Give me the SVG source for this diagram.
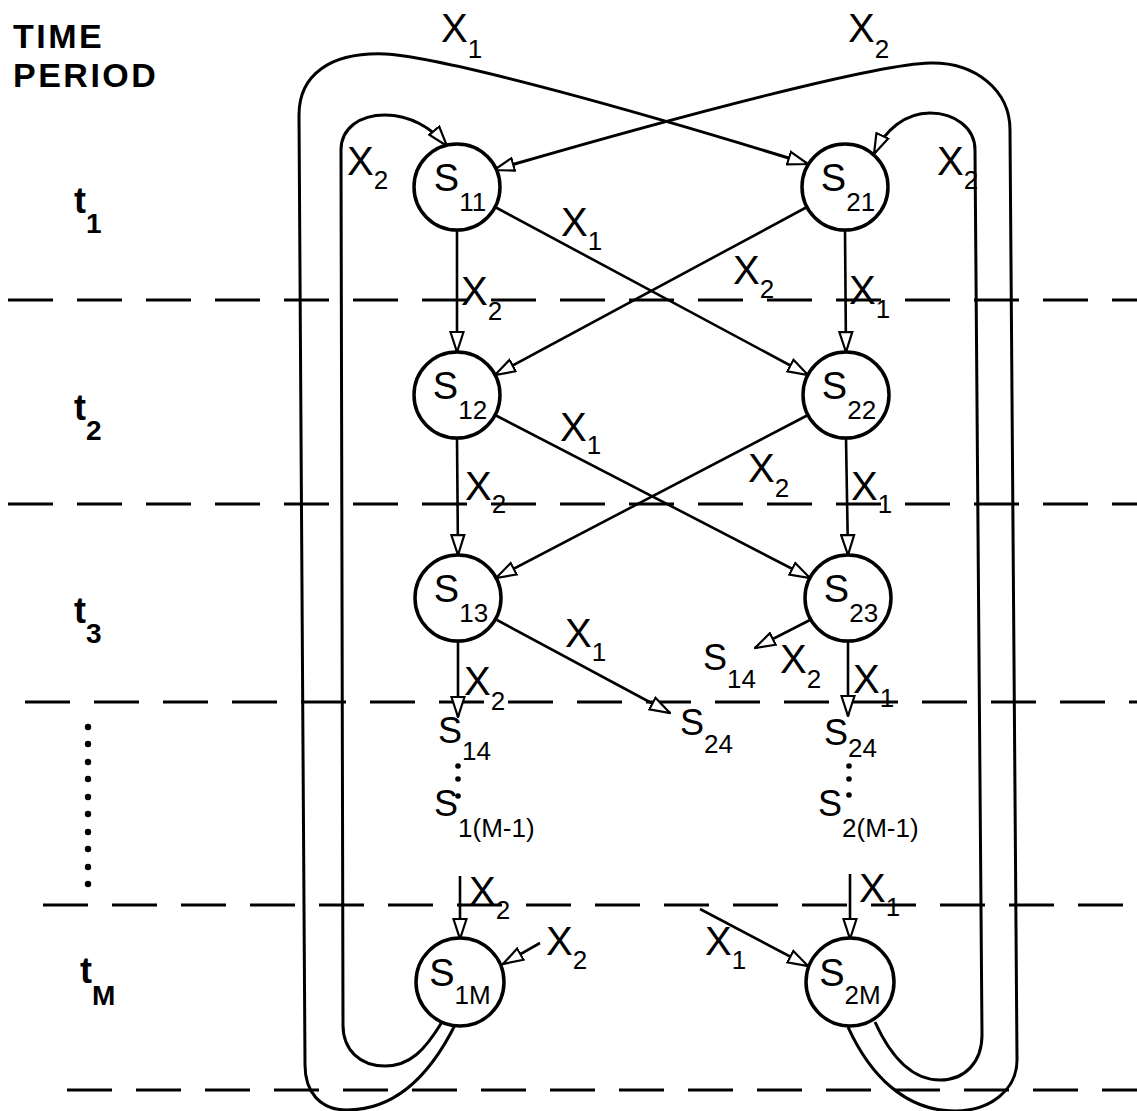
<svg xmlns="http://www.w3.org/2000/svg" width="1137" height="1111" viewBox="0 0 1137 1111">
<style>
.bg{fill:#fff}
.dash{stroke:#000;stroke-width:3;stroke-dasharray:45 24;fill:none}
.node circle{fill:#fff;stroke:#000;stroke-width:3.5}
.edge{stroke:#000;stroke-width:2.6;fill:none}
.loop{stroke:#000;stroke-width:3;fill:none}
.arr{marker-end:url(#ah)}
text{font-family:"Liberation Sans",Arial,sans-serif;fill:#000}
.nl{font-size:38px;text-anchor:middle}
.lab{font-size:40px}
.sub{font-size:26px}
.st{font-size:36px}
.hdr{font-size:34px;font-weight:bold;letter-spacing:2.5px}
.tl{font-size:36px;font-weight:bold}
.tsub{font-size:28px;font-weight:bold}
.dot{fill:#000}
</style>
<defs>
<marker id="ah" viewBox="0 0 22 16" refX="21" refY="8" markerWidth="22" markerHeight="16" markerUnits="userSpaceOnUse" orient="auto">
<path d="M1,1.5 L21,8 L1,14.5 Z" fill="#fff" stroke="#000" stroke-width="2.2"/>
</marker>
</defs>
<rect class="bg" x="0" y="0" width="1137" height="1111"/>

<g id="time-axis">
<text class="hdr" x="13" y="48">TIME</text>
<text class="hdr" x="13" y="87">PERIOD</text>
<text class="tl" x="74" y="213">t<tspan class="tsub" dy="20">1</tspan></text>
<text class="tl" x="74" y="420">t<tspan class="tsub" dy="20">2</tspan></text>
<text class="tl" x="74" y="623">t<tspan class="tsub" dy="20">3</tspan></text>
<text class="tl" x="80" y="983">t<tspan class="tsub" dy="22">M</tspan></text>
<g id="ellipsis-dots">
<circle class="dot" cx="88" cy="727" r="3.2"/>
<circle class="dot" cx="88" cy="744" r="3.2"/>
<circle class="dot" cx="88" cy="762" r="3.2"/>
<circle class="dot" cx="88" cy="779" r="3.2"/>
<circle class="dot" cx="88" cy="797" r="3.2"/>
<circle class="dot" cx="88" cy="814" r="3.2"/>
<circle class="dot" cx="88" cy="832" r="3.2"/>
<circle class="dot" cx="88" cy="849" r="3.2"/>
<circle class="dot" cx="88" cy="867" r="3.2"/>
<circle class="dot" cx="88" cy="884" r="3.2"/>
</g>
</g>

<g id="period-dividers">
<line class="dash" x1="8" y1="300" x2="1137" y2="300"/>
<line class="dash" x1="8" y1="504" x2="1137" y2="504"/>
<line class="dash" x1="25" y1="702" x2="1137" y2="702"/>
<line class="dash" x1="43" y1="905" x2="1137" y2="905"/>
<line class="dash" x1="67" y1="1090" x2="1137" y2="1090"/>
</g>

<g id="connectors">
<path class="loop arr" d="M455,1025 C430,1075 395,1110 347,1110 C320,1110 305,1092 305,1065 L299,115 C299,75 330,52 385,54 C450,58 650,115 808,164"/>
<path class="loop arr" d="M442,1022 C425,1050 410,1066 385,1066 C360,1066 343,1050 343,1025 L341,150 C341,128 360,115 385,115 C410,115 432,128 447,146"/>
<path class="loop arr" d="M848,1027 C870,1075 905,1111 955,1111 C990,1111 1017,1090 1017,1060 L1010,130 C1010,90 975,62 930,63 C880,64 700,110 494,170"/>
<path class="loop arr" d="M875,1022 C890,1055 910,1080 940,1080 C965,1080 982,1062 982,1035 L975,150 C975,128 955,113 930,113 C905,113 885,130 874,154"/>

<line class="edge arr" x1="457" y1="230" x2="457" y2="352"/>
<line class="edge arr" x1="845" y1="230" x2="846" y2="352"/>
<line class="edge arr" x1="457" y1="438" x2="458" y2="555"/>
<line class="edge arr" x1="846" y1="438" x2="848" y2="555"/>
<line class="edge arr" x1="495" y1="207" x2="808" y2="375"/>
<line class="edge arr" x1="807" y1="207" x2="495" y2="375"/>
<line class="edge arr" x1="495" y1="415" x2="810" y2="578"/>
<line class="edge arr" x1="808" y1="415" x2="496" y2="578"/>
<line class="edge arr" x1="458" y1="641" x2="458" y2="717"/>
<line class="edge arr" x1="497" y1="620" x2="670" y2="713"/>
<line class="edge arr" x1="810" y1="620" x2="755" y2="648"/>
<line class="edge arr" x1="848" y1="641" x2="848" y2="716"/>
<line class="edge arr" x1="460" y1="876" x2="460" y2="939"/>
<line class="edge arr" x1="540" y1="943" x2="503" y2="964"/>
<line class="edge arr" x1="700" y1="909" x2="808" y2="966"/>
<line class="edge arr" x1="850" y1="874" x2="850" y2="939"/>

<g id="edge-labels">
<text class="lab" x="441" y="42">X<tspan class="sub" dy="16">1</tspan></text>
<text class="lab" x="848" y="42">X<tspan class="sub" dy="16">2</tspan></text>
<text class="lab" x="347" y="175">X<tspan class="sub" dy="14">2</tspan></text>
<text class="lab" x="937" y="175">X<tspan class="sub" dy="14">2</tspan></text>
<text class="lab" x="561" y="236">X<tspan class="sub" dy="14">1</tspan></text>
<text class="lab" x="733" y="284">X<tspan class="sub" dy="14">2</tspan></text>
<text class="lab" x="461" y="305">X<tspan class="sub" dy="15">2</tspan></text>
<text class="lab" x="849" y="304">X<tspan class="sub" dy="14">1</tspan></text>
<text class="lab" x="560" y="441">X<tspan class="sub" dy="13">1</tspan></text>
<text class="lab" x="748" y="482">X<tspan class="sub" dy="15">2</tspan></text>
<text class="lab" x="465" y="500">X<tspan class="sub" dy="13">2</tspan></text>
<text class="lab" x="851" y="500">X<tspan class="sub" dy="13">1</tspan></text>
<text class="lab" x="565" y="647">X<tspan class="sub" dy="14">1</tspan></text>
<text class="lab" x="464" y="695">X<tspan class="sub" dy="15">2</tspan></text>
<text class="lab" x="780" y="673">X<tspan class="sub" dy="15">2</tspan></text>
<text class="lab" x="853" y="693">X<tspan class="sub" dy="14">1</tspan></text>
<text class="lab" x="469" y="905">X<tspan class="sub" dy="14">2</tspan></text>
<text class="lab" x="546" y="955">X<tspan class="sub" dy="14">2</tspan></text>
<text class="lab" x="705" y="955">X<tspan class="sub" dy="14">1</tspan></text>
<text class="lab" x="859" y="902">X<tspan class="sub" dy="14">1</tspan></text>
</g>
</g>

<g id="n-S11" class="node"><circle cx="457" cy="187" r="43"/><text class="nl" x="460" y="191">S<tspan class="sub" dy="20">11</tspan></text></g>
<g id="n-S21" class="node"><circle cx="845" cy="187" r="43"/><text class="nl" x="848" y="191">S<tspan class="sub" dy="20">21</tspan></text></g>
<g id="n-S12" class="node"><circle cx="457" cy="395" r="43"/><text class="nl" x="460" y="399">S<tspan class="sub" dy="20">12</tspan></text></g>
<g id="n-S22" class="node"><circle cx="846" cy="395" r="43"/><text class="nl" x="849" y="399">S<tspan class="sub" dy="20">22</tspan></text></g>
<g id="n-S13" class="node"><circle cx="458" cy="598" r="43"/><text class="nl" x="461" y="602">S<tspan class="sub" dy="20">13</tspan></text></g>
<g id="n-S23" class="node"><circle cx="848" cy="598" r="43"/><text class="nl" x="851" y="602">S<tspan class="sub" dy="20">23</tspan></text></g>
<g id="n-S1M" class="node"><circle cx="460" cy="982" r="44"/><text class="nl" x="460" y="986">S<tspan class="sub" dy="18">1M</tspan></text></g>
<g id="n-S2M" class="node"><circle cx="850" cy="982" r="44"/><text class="nl" x="850" y="986">S<tspan class="sub" dy="18">2M</tspan></text></g>

<g id="n-S14-left"><text class="st" x="438" y="743">S<tspan class="sub" dy="17">14</tspan></text></g>
<g id="n-S1M-1"><text class="st" x="434" y="816">S<tspan class="sub" dy="21">1(M-1)</tspan></text>
<circle class="dot" cx="458" cy="766" r="2.8"/><circle class="dot" cx="458" cy="779" r="2.8"/><circle class="dot" cx="458" cy="796" r="2.8"/></g>
<g id="n-S24-mid"><text class="st" x="680" y="735">S<tspan class="sub" dy="18">24</tspan></text></g>
<g id="n-S14-mid"><text class="st" x="703" y="670">S<tspan class="sub" dy="18">14</tspan></text></g>
<g id="n-S24-right"><text class="st" x="824" y="745">S<tspan class="sub" dy="12">24</tspan></text></g>
<g id="n-S2M-1"><text class="st" x="818" y="816">S<tspan class="sub" dy="21">2(M-1)</tspan></text>
<circle class="dot" cx="849" cy="766" r="2.8"/><circle class="dot" cx="849" cy="779" r="2.8"/><circle class="dot" cx="849" cy="795" r="2.8"/></g>
</svg>
